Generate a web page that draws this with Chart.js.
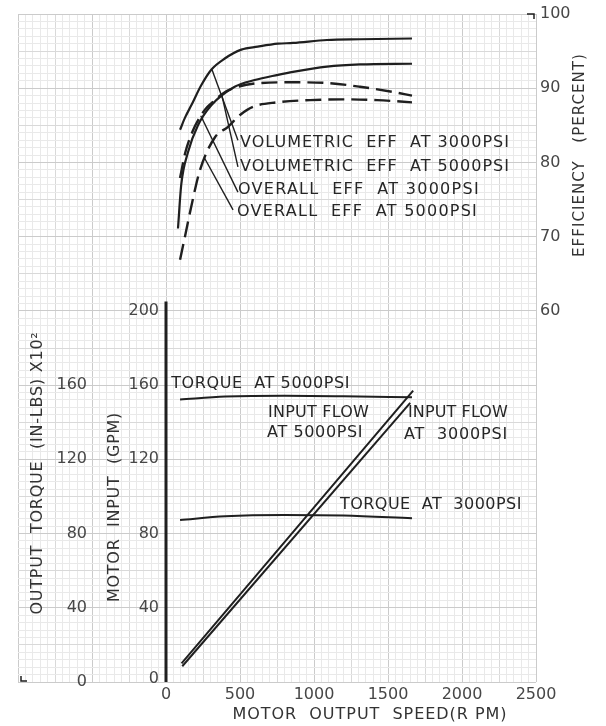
<!DOCTYPE html>
<html>
<head>
<meta charset="utf-8">
<script src="https://cdn.jsdelivr.net/npm/chart.js@4"></script>
<style>
  body { margin: 0; background: #fff; }
  canvas { display: block; }
</style>
</head>
<body>
<canvas id="motorChart" width="606" height="726"></canvas>
<script>
// efficiency curves (rpm, percent)
const volEff3000Rpm = [95, 130, 171, 238, 306, 397, 509, 620, 757, 858, 1088, 1311, 1662];
const volEff3000 = [84.4, 86.1, 87.7, 90.4, 92.5, 94.0, 95.2, 95.6, 96.0, 96.1, 96.5, 96.6, 96.7];
const volEff5000Rpm = [81, 103, 149, 216, 306, 464, 599, 757, 858, 1088, 1311, 1662];
const volEff5000 = [71.1, 77.0, 81.4, 85.0, 87.7, 90.2, 91.1, 91.8, 92.2, 92.9, 93.2, 93.3];
const ovEff3000Rpm = [95, 130, 180, 235, 280, 320, 385, 470, 635, 858, 1088, 1311, 1534, 1662];
const ovEff3000 = [77.9, 81.3, 84.2, 86.3, 87.5, 88.2, 89.3, 90.1, 90.7, 90.8, 90.7, 90.2, 89.5, 89.0];
const ovEff5000Rpm = [95, 128, 169, 230, 331, 419, 500, 588, 750, 973, 1196, 1426, 1662];
const ovEff5000 = [66.9, 70.0, 73.9, 79.0, 83.4, 84.8, 86.4, 87.5, 88.1, 88.4, 88.5, 88.4, 88.1];

// torque (in-lbs x100) and input flow (gpm)
const torque5000Rpm = [95, 400, 800, 1200, 1662];
const torque5000 = [152.3, 153.8, 154.3, 154.0, 153.4];
const torque3000Rpm = [95, 400, 800, 1200, 1662];
const torque3000 = [87.3, 89.3, 90.0, 89.7, 88.2];
const flow5000Rpm = [105, 1670];
const flow5000 = [10, 157];
const flow3000Rpm = [110, 1650];
const flow3000 = [8.5, 150.4];

// tick labels
const speedTicks = [0, 500, 1000, 1500, 2000, 2500];
const gpmTicks = [0, 40, 80, 120, 160, 200];
const torqueTicks = [0, 40, 80, 120, 160];
const effTicks = [60, 70, 80, 90, 100];

// leader lines from curve to label: [rpm, eff] pairs
const leaders = [
  [[311, 92.5], [486, 83.0]],
  [[378, 89.0], [486, 79.4]],
  [[235, 86.3], [486, 76.0]],
  [[260, 80.6], [453, 73.6]],
];

// curve labels: text, rpm, value, axis, width in px
const notes = [
  ["VOLUMETRIC  EFF  AT 3000PSI", 500, 82.6, "yE", 270],
  ["VOLUMETRIC  EFF  AT 5000PSI", 500, 79.4, "yE", 270],
  ["OVERALL  EFF  AT 3000PSI", 486, 76.3, "yE", 242],
  ["OVERALL  EFF  AT 5000PSI", 480, 73.3, "yE", 241],
  ["TORQUE  AT 5000PSI", 35, 160.6, "y", 179],
  ["INPUT FLOW", 690, 145.0, "y", 101],
  ["AT 5000PSI", 683, 134.2, "y", 96],
  ["INPUT FLOW", 1635, 145.0, "y", 100],
  ["AT  3000PSI", 1608, 133.1, "y", 104],
  ["TORQUE  AT  3000PSI", 1175, 95.4, "y", 182],
];

const pts = (xs, ys) => xs.map((x, i) => ({ x: x, y: ys[i] }));
const ink = "#1f1f1f";

function line(label, xs, ys, axis, dashed, width) {
  return {
    label: label,
    data: pts(xs, ys),
    yAxisID: axis,
    borderColor: ink,
    borderWidth: width || 2.2,
    borderDash: dashed ? [16, 7] : [],
    pointRadius: 0,
    cubicInterpolationMode: "monotone",
    fill: false,
  };
}

function say(ctx, text, x, y, o) {
  o = o || {};
  ctx.save();
  ctx.font = (o.size || 16) + 'px "DejaVu Sans"';
  ctx.fillStyle = o.color || "#262626";
  ctx.textBaseline = "middle";
  ctx.textAlign = "left";
  ctx.letterSpacing = "0px";
  const w0 = ctx.measureText(text).width;
  let w = w0;
  if (o.w) {
    ctx.letterSpacing = (o.w - w0) / text.length + "px";
    w = o.w;
  }
  ctx.translate(x, y);
  if (o.rot) ctx.rotate(o.rot);
  let dx = 0;
  if (o.align === "center") dx = -w / 2;
  if (o.align === "right") dx = -w;
  ctx.fillText(text, dx, 0);
  ctx.restore();
}

const labelsPlugin = {
  id: "labels",
  afterDatasetsDraw(chart) {
    const ctx = chart.ctx;
    const xs = chart.scales.x, ys = chart.scales.y, es = chart.scales.yE;
    const ca = chart.chartArea;
    const x0 = xs.getPixelForValue(0);

    // bold flow axis
    ctx.save();
    ctx.strokeStyle = ink;
    ctx.lineWidth = 3;
    ctx.beginPath();
    ctx.moveTo(x0, ys.getPixelForValue(0));
    ctx.lineTo(x0, ys.getPixelForValue(205));
    ctx.stroke();

    // leader lines
    ctx.lineWidth = 1.4;
    leaders.forEach(l => {
      ctx.beginPath();
      l.forEach((p, i) => {
        const px = xs.getPixelForValue(p[0]), py = es.getPixelForValue(p[1]);
        if (i === 0) ctx.moveTo(px, py); else ctx.lineTo(px, py);
      });
      ctx.stroke();
    });

    // paper corner marks
    ctx.lineWidth = 1.5;
    ctx.beginPath();
    ctx.moveTo(ca.right - 9, es.getPixelForValue(100));
    ctx.lineTo(ca.right - 2, es.getPixelForValue(100));
    ctx.lineTo(ca.right - 2, es.getPixelForValue(100) + 5);
    ctx.moveTo(ca.left + 3, ca.bottom - 6);
    ctx.lineTo(ca.left + 3, ca.bottom - 1);
    ctx.lineTo(ca.left + 9, ca.bottom - 1);
    ctx.stroke();
    ctx.restore();

    const tickCol = "#474747";
    speedTicks.forEach(v => say(ctx, String(v), xs.getPixelForValue(v), ca.bottom + 13, { align: "center", color: tickCol }));
    gpmTicks.forEach(v => say(ctx, String(v), x0 - 7, ys.getPixelForValue(v) - (v === 0 ? 3 : 0), { align: "right", color: tickCol }));
    torqueTicks.forEach(v => say(ctx, String(v), ca.left + 69, ys.getPixelForValue(v), { align: "right", color: tickCol }));
    effTicks.forEach(v => say(ctx, String(v), ca.right + 4, es.getPixelForValue(v), { color: tickCol }));

    notes.forEach(n => {
      const sc = n[3] === "yE" ? es : ys;
      say(ctx, n[0], xs.getPixelForValue(n[1]), sc.getPixelForValue(n[2]), { w: n[4] });
    });

    // axis titles
    say(ctx, "MOTOR  OUTPUT  SPEED(R PM)", 370, ca.bottom + 33, { align: "center", w: 275, color: "#333" });
    say(ctx, "OUTPUT  TORQUE  (IN-LBS) X10\u00B2", 38, 473, { align: "center", w: 283, rot: -Math.PI / 2, color: "#333" });
    say(ctx, "MOTOR  INPUT  (GPM)", 115, 507, { align: "center", w: 190, rot: -Math.PI / 2, color: "#333" });
    say(ctx, "EFFICIENCY   (PERCENT)", 580, 155, { align: "center", w: 204, rot: -Math.PI / 2, color: "#333", size: 15 });
  },
};

function gridColor(major, mid) {
  return c => {
    const v = Math.round(c.tick.value);
    if (v % major === 0) return "#cbcbcb";
    if (v % mid === 0) return "#d9d9d9";
    return "#e9e9e9";
  };
}

new Chart(document.getElementById("motorChart"), {
  type: "line",
  data: {
    datasets: [
      line("Volumetric eff at 3000 psi", volEff3000Rpm, volEff3000, "yE", false),
      line("Volumetric eff at 5000 psi", volEff5000Rpm, volEff5000, "yE", false),
      line("Overall eff at 3000 psi", ovEff3000Rpm, ovEff3000, "yE", true, 2.4),
      line("Overall eff at 5000 psi", ovEff5000Rpm, ovEff5000, "yE", true, 2.4),
      line("Torque at 5000 psi", torque5000Rpm, torque5000, "y", false, 2),
      line("Torque at 3000 psi", torque3000Rpm, torque3000, "y", false, 2),
      line("Input flow at 5000 psi", flow5000Rpm, flow5000, "y", false, 2),
      line("Input flow at 3000 psi", flow3000Rpm, flow3000, "y", false, 2),
    ],
  },
  options: {
    responsive: false,
    animation: false,
    layout: { padding: { left: 18, right: 70, top: 14, bottom: 44 } },
    scales: {
      x: {
        type: "linear",
        min: -1000,
        max: 2500,
        ticks: { stepSize: 50, display: false, autoSkip: false },
        grid: { color: gridColor(500, 250), drawTicks: false },
        border: { display: false },
      },
      y: {
        min: 0,
        max: 360,
        ticks: { stepSize: 4, display: false, autoSkip: false },
        grid: { color: gridColor(40, 20), drawTicks: false },
        border: { display: false },
      },
      yE: { display: false, min: 10, max: 100 },
    },
    plugins: {
      legend: { display: false },
      tooltip: { enabled: false },
    },
  },
  plugins: [labelsPlugin],
});
</script>
</body>
</html>
